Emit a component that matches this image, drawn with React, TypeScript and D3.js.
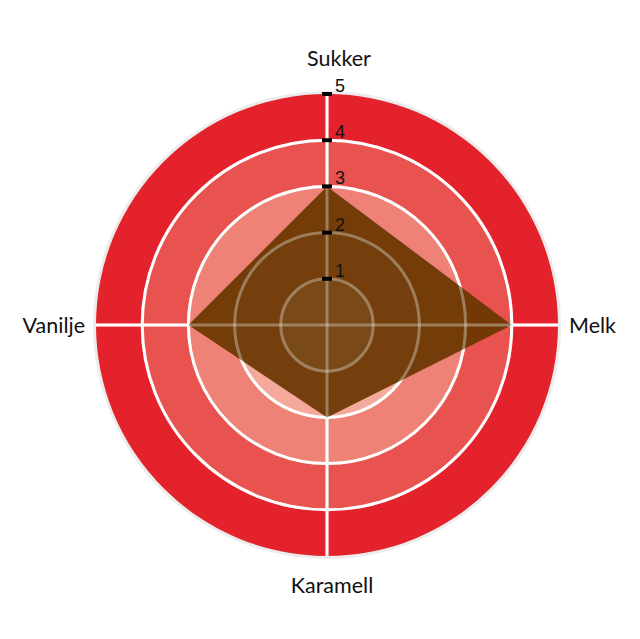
import React from "react";
import * as d3 from "d3";

const categories = ["Sukker", "Melk", "Karamell", "Vanilje"];
const values = [3, 4, 2, 3];
const tickValues = [1, 2, 3, 4, 5];
const bandColors = ["#f8c8bd", "#f5a99c", "#ee8276", "#e8524f", "#e3222b"];

const W = 640;
const H = 639;
const cx = 327;
const cy = 325;
const R = 231;

export default function App() {
  const r = d3.scaleLinear().domain([0, 5]).range([0, R]);
  const ang = (c: string) => (categories.indexOf(c) / categories.length) * 2 * Math.PI;

  const line = d3
    .lineRadial<number>()
    .angle((_, i) => ang(categories[i]))
    .radius((d) => r(d))
    .curve(d3.curveLinearClosed);

  const arc = d3.arc();
  const bands = bandColors.map((c, i) => ({
    color: c,
    path: arc({ innerRadius: r(i), outerRadius: r(i + 1), startAngle: 0, endAngle: 2 * Math.PI }) as string,
  }));

  const gridCircles = tickValues.slice(0, 4);

  const axisLines = categories.map((c) => {
    const a = ang(c);
    return { x2: Math.sin(a) * R, y2: -Math.cos(a) * R };
  });

  const labelPos = categories.map((c) => {
    const a = ang(c);
    const s = Math.sin(a);
    const co = -Math.cos(a);
    let x = 0, y = 0, anchor = "middle";
    if (Math.abs(s) < 0.01) {
      x = co < 0 ? 12 : 5;
      y = co < 0 ? -R - 28 : R + 37;
    } else {
      x = s * (R + 11);
      y = 8;
      anchor = s > 0 ? "start" : "end";
    }
    return { c, x, y, anchor };
  });

  return (
    <svg
      width={W}
      height={H}
      style={{ position: "absolute", left: 0, top: 0, background: "#fff" }}
    >
      <g transform={`translate(${cx},${cy})`}>
        <circle r={R + 1} fill="none" stroke="#ececec" strokeWidth={4} />
        {bands.map((b, i) => (
          <path key={i} d={b.path} fill={b.color} />
        ))}
        {gridCircles.map((t) => (
          <circle key={t} r={r(t)} fill="none" stroke="#fff" strokeWidth={3} />
        ))}
        {axisLines.map((l, i) => (
          <line key={i} x1={0} y1={0} x2={l.x2} y2={l.y2} stroke="#fff" strokeWidth={3} />
        ))}
        <path d={line(values) as string} fill="rgb(104,54,0)" fillOpacity={0.92} />
        {gridCircles.map((t) => (
          <circle key={"o" + t} r={r(t)} fill="none" stroke="#fff" strokeOpacity={0.3} strokeWidth={3} />
        ))}
        {axisLines.map((l, i) => (
          <line key={"o" + i} x1={0} y1={0} x2={l.x2} y2={l.y2} stroke="#fff" strokeOpacity={0.3} strokeWidth={3} />
        ))}
        <circle r={r(1)} fill="#fff" fillOpacity={0.04} />
        {tickValues.map((t) => (
          <g key={"t" + t}>
            <rect x={-5} y={-r(t) - 2} width={10} height={4} fill="#000" />
            <text
              x={8}
              y={-r(t) - 2}
              fontFamily="Liberation Sans, Arial, sans-serif"
              fontSize={18}
              fill="#111"
            >
              {t}
            </text>
          </g>
        ))}
        {labelPos.map((p) => (
          <text
            key={p.c}
            x={p.x}
            y={p.y}
            textAnchor={p.anchor}
            fontFamily="Lato, sans-serif"
            fontSize={21.5}
            fill="#111"
          >
            {p.c}
          </text>
        ))}
      </g>
    </svg>
  );
}
